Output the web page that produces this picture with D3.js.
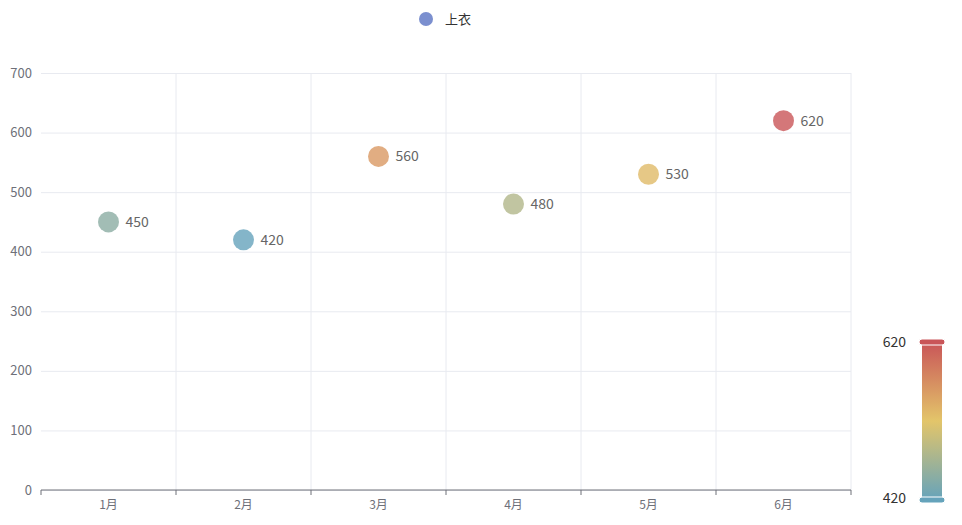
<!DOCTYPE html>
<html lang="en">
<head>
<meta charset="utf-8">
<script src="https://d3js.org/d3.v7.min.js"></script>
<style>
  body { margin: 0; font-family: "Noto Sans CJK SC", "Noto Sans", sans-serif; }
  .grid line { stroke: #e8eaf0; }
  .grid path { stroke-width: 0; }
</style>
</head>
<body>
<div id="chart"></div>
<script>
// data
const months = ["1月", "2月", "3月", "4月", "5月", "6月"];
const sales = [450, 420, 560, 480, 530, 620];
const yTicks = [0, 100, 200, 300, 400, 500, 600, 700];
const seriesName = "上衣";

const W = 962, H = 525;
const margin = { top: 73, right: 111, bottom: 35, left: 41 };
const width = W - margin.left - margin.right, height = H - margin.top - margin.bottom;

const svg = d3.select("#chart").append("svg").attr("width", W).attr("height", H);
const g = svg.append("g").attr("transform", `translate(${margin.left},${margin.top})`);

const x = d3.scaleBand().domain(months).range([0, width]);
const y = d3.scaleLinear().domain([0, 700]).range([height, 0]);
const color = d3.scaleLinear().domain([420, 520, 620])
  .range(["#65a3bb", "#e3c56a", "#c95558"]);

// grid
g.append("g").attr("class", "grid")
  .call(d3.axisLeft(y).tickValues(yTicks).tickSize(-width).tickFormat(""));
g.append("g").attr("class", "grid")
  .selectAll("line").data(months.slice(1).concat(["end"])).join("line")
  .attr("x1", (d, i) => x.bandwidth() * (i + 1)).attr("x2", (d, i) => x.bandwidth() * (i + 1))
  .attr("y1", 0).attr("y2", height);

// y labels
g.append("g").selectAll("text").data(yTicks).join("text")
  .attr("x", -9).attr("y", d => y(d)).attr("dy", "0.35em")
  .attr("text-anchor", "end").attr("fill", "#6e7079").style("font-size", "13px")
  .text(d => d);

// x axis
const xa = g.append("g").attr("transform", `translate(0,${height})`);
xa.append("line").attr("x1", 0).attr("x2", width).attr("stroke", "#6e7079");
xa.selectAll("line.t").data(d3.range(months.length + 1)).join("line").attr("class", "t")
  .attr("x1", i => i * x.bandwidth()).attr("x2", i => i * x.bandwidth())
  .attr("y1", 0).attr("y2", 5).attr("stroke", "#6e7079");
xa.selectAll("text").data(months).join("text")
  .attr("x", d => x(d) + x.bandwidth() / 2).attr("y", 19)
  .attr("text-anchor", "middle").attr("fill", "#6e7079").style("font-size", "12px")
  .text(d => d);

// points
const pts = g.append("g").selectAll("g").data(months.map((m, i) => ({ m, v: sales[i] }))).join("g");
pts.append("circle")
  .attr("cx", d => x(d.m) + x.bandwidth() / 2).attr("cy", d => y(d.v))
  .attr("r", 10.5).attr("fill", d => color(d.v)).attr("opacity", 0.8);
pts.append("text")
  .attr("x", d => x(d.m) + x.bandwidth() / 2 + 17).attr("y", d => y(d.v)).attr("dy", "0.35em")
  .attr("fill", "#666").style("font-size", "14px").text(d => d.v);

// legend
svg.append("circle").attr("cx", 426).attr("cy", 19).attr("r", 7).attr("fill", "#7b8fcf");
svg.append("text").attr("x", 445).attr("y", 19).attr("dy", "0.35em")
  .attr("fill", "#333").style("font-size", "13px").text(seriesName);

// visual map
const defs = svg.append("defs");
const grad = defs.append("linearGradient").attr("id", "vm").attr("x1", 0).attr("x2", 0).attr("y1", 1).attr("y2", 0);
color.domain().forEach(v => grad.append("stop").attr("offset", (v - 420) / 200).attr("stop-color", color(v)));
const vmTop = 342, vmBot = 500, vmX = 921, vmW = 22;
svg.append("rect").attr("x", vmX + 1).attr("y", vmTop).attr("width", vmW - 2).attr("height", vmBot - vmTop)
  .attr("fill", "url(#vm)");
svg.append("rect").attr("x", vmX - 2).attr("y", vmTop - 3).attr("width", vmW + 4).attr("height", 6).attr("rx", 3)
  .attr("fill", color(620)).attr("stroke", "#fff").attr("stroke-width", 1);
svg.append("rect").attr("x", vmX - 2).attr("y", vmBot - 3).attr("width", vmW + 4).attr("height", 6).attr("rx", 3)
  .attr("fill", color(420)).attr("stroke", "#fff").attr("stroke-width", 1);
svg.append("text").attr("x", 906).attr("y", vmTop).attr("dy", "0.35em").attr("text-anchor", "end")
  .attr("fill", "#333").style("font-size", "14px").text("620");
svg.append("text").attr("x", 906).attr("y", vmBot - 2).attr("dy", "0.35em").attr("text-anchor", "end")
  .attr("fill", "#333").style("font-size", "14px").text("420");
</script>
</body>
</html>
